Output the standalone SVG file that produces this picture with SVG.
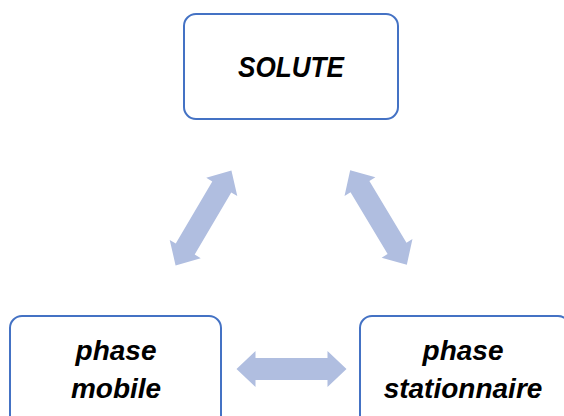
<svg xmlns="http://www.w3.org/2000/svg" width="564" height="416" viewBox="0 0 564 416">
<defs>
<style>
.box{fill:#ffffff;stroke:#4472C4;stroke-width:2}
.lbl{font-family:"Liberation Sans",Arial,sans-serif;font-weight:bold;font-style:italic;fill:#000;text-anchor:middle}
.arr{fill:#B0BEE0}
</style>
<path id="dbl" d="M -55 0 L -36 -18 L -36 -11 L 36 -11 L 36 -18 L 55 0 L 36 18 L 36 11 L -36 11 L -36 18 Z"/>
</defs>
<rect width="564" height="416" fill="#ffffff"/>
<g id="connectors">
<use href="#dbl" class="arr" transform="translate(203.5,218) rotate(-59.5)"/>
<use href="#dbl" class="arr" transform="translate(378.5,217.5) rotate(59)"/>
<use href="#dbl" class="arr" transform="translate(291.5,369)"/>
</g>
<g id="solute">
<rect class="box" x="184" y="14" width="214" height="105" rx="12"/>
<text class="lbl" x="291" y="77" font-size="29" textLength="106" lengthAdjust="spacingAndGlyphs">SOLUTE</text>
</g>
<g id="phase-mobile">
<rect class="box" x="10" y="316" width="211" height="120" rx="12"/>
<text class="lbl" x="116" y="360" font-size="28">phase</text>
<text class="lbl" x="116" y="398" font-size="28">mobile</text>
</g>
<g id="phase-stationnaire">
<rect class="box" x="360" y="316" width="210" height="120" rx="12"/>
<text class="lbl" x="463" y="360" font-size="28">phase</text>
<text class="lbl" x="463" y="398" font-size="28">stationnaire</text>
</g>
</svg>
